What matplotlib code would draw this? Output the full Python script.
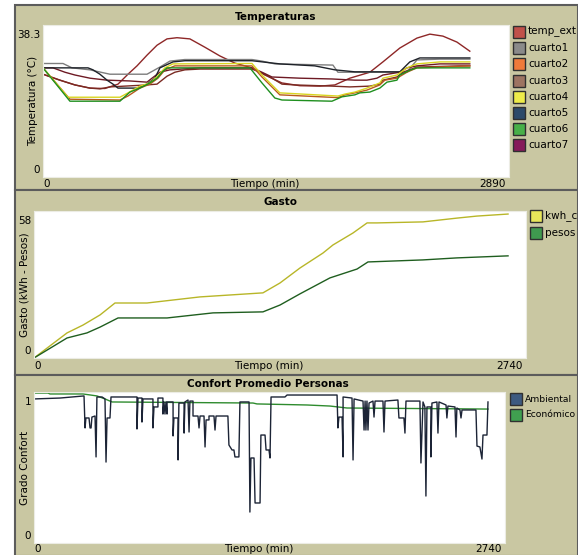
import matplotlib
matplotlib.use('Agg')
import matplotlib.pyplot as plt
from matplotlib.patches import Rectangle

# ---- datos: Temperaturas (tiempo en min, temperatura en °C) ----
temp_ext_t = [0, 105, 198, 291, 384, 465, 527, 583, 645, 707, 769, 831, 911, 1004, 1097, 1190, 1296,
              1376, 1482, 1593, 1717, 1810, 1903, 2027, 2108, 2213, 2319, 2399, 2480, 2567, 2647]
temp_ext_v = [25.9, 24.4, 23.2, 22.4, 22.3, 23.4, 25.9, 28.0, 30.7, 33.2, 34.8, 35.1, 34.8, 32.7, 30.5, 28.7, 27.5,
              25.7, 23.7, 23.0, 22.9, 23.2, 24.9, 26.4, 29.0, 32.5, 35.0, 36.0, 35.5, 34.0, 31.7]

cuarto1_t = [0, 124, 180, 291, 415, 645, 725, 787, 880, 1296, 1358, 1438, 1798, 1829, 2257, 2319, 2461, 2647]
cuarto1_v = [28.6, 28.6, 27.5, 27.0, 25.9, 25.9, 27.7, 29.2, 29.6, 29.6, 29.2, 28.5, 28.2, 26.4, 26.4, 29.5, 29.7, 29.7]

cuarto2_t = [0, 167, 477, 527, 601, 663, 713, 756, 818, 1296, 1358, 1469, 1829, 1872, 1934, 2009, 2089,
             2120, 2195, 2257, 2319, 2647]
cuarto2_v = [27.5, 19.6, 19.4, 20.4, 22.4, 23.4, 24.9, 27.0, 28.0, 28.0, 25.2, 20.7, 20.0, 20.7, 21.2, 21.9, 23.2,
             24.4, 24.9, 26.4, 27.5, 28.0]

cuarto3_t = [0, 105, 198, 291, 353, 415, 645, 707, 738, 769, 818, 880, 973, 1296, 1358, 1420, 1482, 1562,
             1792, 1903, 2027, 2089, 2108, 2195, 2232, 2319, 2585, 2647]
cuarto3_v = [25.9, 24.4, 23.2, 22.4, 22.2, 22.7, 23.2, 23.4, 24.4, 25.4, 26.4, 27.0, 27.2, 27.2, 26.2, 24.9, 23.4, 23.2,
             22.9, 22.7, 22.9, 23.4, 24.4, 25.2, 26.4, 27.7, 28.0, 28.0]

cuarto4_t = [0, 155, 477, 527, 601, 663, 713, 756, 806, 1296, 1358, 1469, 1829, 1873, 1934, 2009, 2089,
             2108, 2195, 2257, 2319, 2462, 2647]
cuarto4_v = [27.5, 20.1, 20.1, 21.2, 22.9, 23.7, 25.5, 27.5, 28.5, 28.6, 25.7, 21.2, 20.4, 20.9, 21.4, 22.4, 23.7,
             24.9, 25.7, 27.5, 28.5, 29.0, 29.0]

cuarto5_t = [0, 279, 310, 353, 397, 434, 465, 583, 645, 694, 725, 806, 880, 1296, 1469, 1686, 1810, 1934,
             2213, 2275, 2337, 2647]
cuarto5_v = [27.5, 27.5, 27.0, 25.9, 24.4, 23.4, 22.4, 22.4, 23.4, 24.9, 27.5, 29.0, 29.3, 29.3, 28.5, 28.0, 27.0, 26.5,
             26.5, 29.0, 30.0, 30.0]

cuarto6_t = [0, 167, 477, 539, 601, 663, 707, 738, 769, 1283, 1358, 1438, 1482, 1792, 1854, 1934, 1965,
             2027, 2089, 2133, 2195, 2213, 2275, 2319, 2647]
cuarto6_v = [27.5, 19.1, 19.1, 21.4, 22.4, 23.7, 24.9, 26.4, 27.5, 27.5, 23.7, 19.9, 19.4, 19.1, 20.2, 20.7, 21.2,
             21.4, 22.4, 23.9, 24.4, 25.7, 26.9, 27.5, 27.5]

cuarto7_t = [0, 62, 136, 198, 291, 397, 539, 645, 676, 725, 787, 973, 1296, 1358, 1420, 1593, 1792, 1934,
             2009, 2071, 2108, 2213, 2257, 2319, 2461, 2647]
cuarto7_v = [27.5, 27.5, 26.4, 25.7, 24.9, 24.4, 24.2, 23.9, 24.9, 26.4, 27.0, 27.5, 27.5, 26.4, 25.2, 24.9, 24.7, 24.4,
             24.4, 24.9, 25.7, 26.4, 27.5, 28.0, 28.5, 28.5]

# ---- datos: Gasto ----
kwh_t = [0, 184, 273, 368, 451, 629, 924, 1275, 1370, 1481, 1609, 1665, 1776, 1855, 1910, 2166, 2356, 2467, 2640]
kwh_v = [0.0, 9.9, 13.0, 17.0, 21.7, 21.7, 24.1, 25.7, 29.6, 35.5, 41.4, 44.6, 49.3, 53.3, 53.3, 53.7, 55.2, 56.0, 56.8]
pesos_t = [0, 184, 295, 368, 468, 741, 997, 1275, 1370, 1481, 1648, 1799, 1860, 2166, 2356, 2640]
pesos_v = [0.0, 7.9, 9.9, 12.2, 15.8, 15.8, 17.8, 18.2, 20.9, 25.3, 31.6, 35.1, 37.9, 38.7, 39.5, 40.3]

# ---- datos: Confort ----
eco_t = [0, 81, 93, 285, 366, 413, 454, 1274, 1297, 1588, 1722, 1821, 2641]
eco_v = [0.993, 0.993, 0.987, 0.987, 0.974, 0.954, 0.934, 0.927, 0.921, 0.914, 0.907, 0.894, 0.887]

amb_t = [0, 151, 285, 291, 297, 302, 320, 326, 332, 337, 355, 361, 366, 396, 413, 419, 425, 442, 448,
         599, 599, 605, 628, 628, 634, 692, 692, 698, 721, 721, 750, 750, 756, 762, 768, 774, 774,
         809, 809, 814, 838, 838, 843, 873, 873, 878, 896, 902, 907, 925, 925, 954, 960, 966, 989,
         995, 1001, 1018, 1018, 1047, 1053, 1059, 1128, 1134, 1152, 1163, 1169, 1192, 1198, 1251,
         1256, 1262, 1280, 1286, 1315, 1320, 1344, 1350, 1367, 1373, 1379, 1460, 1472, 1763, 1768,
         1774, 1792, 1798, 1798, 1850, 1856, 1862, 1914, 1920, 1926, 1931, 1937, 1943, 1949, 1972,
         1978, 1984, 2030, 2036, 2042, 2117, 2123, 2152, 2158, 2164, 2245, 2251, 2263, 2274, 2280,
         2286, 2309, 2309, 2315, 2344, 2350, 2356, 2397, 2402, 2408, 2449, 2455, 2460, 2478, 2484,
         2490, 2571, 2577, 2594, 2606, 2612, 2635, 2641]
amb_v = [0.954, 0.960, 0.974, 0.974, 0.762, 0.828, 0.828, 0.762, 0.762, 0.834, 0.841, 0.570, 0.967, 0.967, 0.954, 0.536, 0.828, 0.828, 0.967,
         0.967, 0.755, 0.960, 0.960, 0.801, 0.954, 0.954, 0.762, 0.901, 0.901, 0.960, 0.960, 0.854, 0.934, 0.854, 0.934, 0.854, 0.934,
         0.934, 0.709, 0.828, 0.828, 0.550, 0.927, 0.927, 0.728, 0.934, 0.947, 0.735, 0.940, 0.940, 0.841, 0.841, 0.762, 0.841, 0.841,
         0.636, 0.815, 0.815, 0.841, 0.841, 0.748, 0.841, 0.841, 0.649, 0.616, 0.616, 0.570, 0.570, 0.934, 0.934,
         0.205, 0.563, 0.563, 0.265, 0.265, 0.715, 0.715, 0.616, 0.616, 0.563, 0.967, 0.967, 0.980, 0.980, 0.762,
         0.834, 0.834, 0.570, 0.967, 0.960, 0.550, 0.954, 0.940, 0.748, 0.940, 0.748, 0.940, 0.748, 0.927, 0.940,
         0.834, 0.940, 0.940, 0.735, 0.940, 0.947, 0.828, 0.828, 0.728, 0.940, 0.940, 0.530, 0.934, 0.901, 0.311,
         0.901, 0.901, 0.570, 0.927, 0.934, 0.728, 0.934, 0.914, 0.828, 0.907, 0.901, 0.702, 0.894, 0.881, 0.828,
         0.881, 0.881, 0.642, 0.636, 0.556, 0.715, 0.715, 0.934]

W, H = 578, 555
KHAKI = '#c9c7a2'
FS = 7.5

fig = plt.figure(figsize=(W / 100, H / 100), dpi=100)
fig.patch.set_facecolor('white')


def fx(x):
    return x / W


def fy(y):
    return 1 - y / H


def panel(top, bottom):
    fig.add_artist(Rectangle((fx(15), fy(bottom)), fx(578 - 15), (bottom - top) / H,
                             transform=fig.transFigure, facecolor=KHAKI,
                             edgecolor='#5c5c5c', lw=1.5, zorder=0))


def make_ax(l, r, t, b):
    ax = fig.add_axes([fx(l), fy(b), (r - l) / W, (b - t) / H])
    ax.set_facecolor('white')
    for s in ax.spines.values():
        s.set_color('#ecece4')
    ax.set_xticks([])
    ax.set_yticks([])
    return ax


def legend(items, x, y0, step=16.2, size=FS):
    for i, (name, col) in enumerate(items):
        y = y0 + i * step
        fig.add_artist(Rectangle((fx(x), fy(y + 6)), 12 / W, 12 / H, transform=fig.transFigure,
                                 facecolor=col, edgecolor='#303030', lw=1.0, zorder=3))
        fig.text(fx(x + 15), fy(y), name, fontsize=size, va='center', ha='left')


def labels(title, tx, ty, l, r, t, b, ymax_txt, ylab, ylab_x, xmax_txt, bottom_y):
    fig.text(fx(tx), fy(ty), title, fontsize=FS, weight='bold', ha='center', va='center')
    fig.text(fx(l - 3), fy(t + 10), ymax_txt, fontsize=FS, ha='right', va='center')
    fig.text(fx(l - 3), fy(b - 7), '0', fontsize=FS, ha='right', va='center')
    fig.text(fx(l), fy(bottom_y), '0', fontsize=FS, ha='left', va='center')
    fig.text(fx(r - 3), fy(bottom_y), xmax_txt, fontsize=FS, ha='right', va='center')
    fig.text(fx((l + r) / 2 - 11), fy(bottom_y), 'Tiempo (min)', fontsize=FS, ha='center', va='center')
    fig.text(fx(ylab_x), fy((t + b) / 2), ylab, fontsize=FS, rotation=90, ha='center', va='center')


# ---- panel 1: Temperaturas ----
panel(5, 190)
ax1 = make_ax(43, 509, 25, 177)
series = [
    (temp_ext_t, temp_ext_v, '#8e2727'),
    (cuarto1_t, cuarto1_v, '#7d7d7d'),
    (cuarto3_t, cuarto3_v, '#7a2a22'),
    (cuarto7_t, cuarto7_v, '#6e1a24'),
    (cuarto5_t, cuarto5_v, '#1e2229'),
    (cuarto2_t, cuarto2_v, '#b85a1e'),
    (cuarto4_t, cuarto4_v, '#d9d520'),
    (cuarto6_t, cuarto6_v, '#1f8f1f'),
]
for t, v, c in series:
    ax1.plot(t, v, color=c, lw=1.0)
ax1.set_xlim(0, 2890)
ax1.set_ylim(0, 38.3)
labels('Temperaturas', 276, 17, 43, 509, 25, 177, '38.3', 'Temperatura (°C)', 33, '2890', 184)
legend([('temp_ext', '#c0504a'), ('cuarto1', '#8a8a8a'), ('cuarto2', '#ef7a3a'),
        ('cuarto3', '#9d7462'), ('cuarto4', '#eeec4a'), ('cuarto5', '#2d4a6a'),
        ('cuarto6', '#48b048'), ('cuarto7', '#861a5a')], 513, 32)

# ---- panel 2: Gasto ----
panel(190, 375)
ax2 = make_ax(34, 526, 211, 358)
ax2.plot(kwh_t, kwh_v, color='#b8b628', lw=1.0)
ax2.plot(pesos_t, pesos_v, color='#1f5e1f', lw=1.0)
ax2.set_xlim(0, 2740)
ax2.set_ylim(0, 58)
labels('Gasto', 280, 202, 34, 526, 211, 358, '58', 'Gasto (kWh - Pesos)', 25, '2740', 366)
legend([('kwh_c', '#e8e65a'), ('pesos', '#3f9a4f')], 530, 216, step=17)

# ---- panel 3: Confort Promedio Personas ----
panel(375, 556)
ax3 = make_ax(34, 505, 392, 543)
ax3.plot(eco_t, eco_v, color='#2e8b2e', lw=1.0)
ax3.plot(amb_t, amb_v, color='#1c2436', lw=1.0)
ax3.set_xlim(0, 2740)
ax3.set_ylim(0, 1)
labels('Confort Promedio Personas', 268, 384, 34, 505, 392, 543, '1', 'Grado Confort', 25, '2740', 549)
legend([('Ambiental', '#3d5a80'), ('Económico', '#40a050')], 510, 399, step=15.5, size=6.6)

fig.savefig('out.png', dpi=100, facecolor='white')
